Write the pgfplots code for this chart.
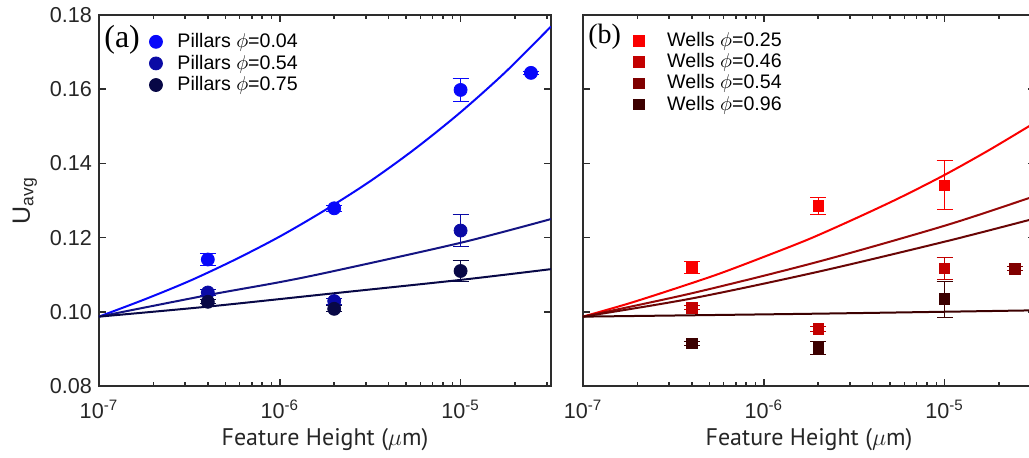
\documentclass[border=0pt]{standalone}
\usepackage{fontspec}
\setmainfont{Liberation Sans}
\newfontfamily\seriffont{Liberation Serif}
\newfontfamily\labelfont{PT Sans}
\usepackage{pgfplots}
\usepackage{pgfplotstable}
\pgfplotsset{compat=1.18}

\definecolor{axgray}{RGB}{45,45,45}
\definecolor{pA}{RGB}{8,8,250}
\definecolor{pB}{RGB}{10,10,165}
\definecolor{pC}{RGB}{8,8,70}
\definecolor{pBl}{RGB}{20,20,130}
\definecolor{wA}{RGB}{250,0,0}
\definecolor{wB}{RGB}{195,0,0}
\definecolor{wC}{RGB}{128,0,0}
\definecolor{wD}{RGB}{60,0,0}
\definecolor{wBl}{RGB}{150,8,8}
\definecolor{wCl}{RGB}{105,5,5}

% ---- data: pillars ----
\pgfplotstableread{
x y ey
4e-7 0.1141 0.0015
2e-6 0.1279 0.0008
1e-5 0.1598 0.0032
2.45e-5 0.1644 0.0005
}\pilA
\pgfplotstableread{
x y ey
4e-7 0.1052 0.0008
2e-6 0.1029 0.0008
1e-5 0.1219 0.0044
}\pilB
\pgfplotstableread{
x y ey
4e-7 0.1027 0.0005
2e-6 0.1008 0.0008
1e-5 0.1110 0.0028
}\pilC
% ---- data: wells ----
\pgfplotstableread{
x y ey
4e-7 0.1119 0.0017
2e-6 0.1285 0.0024
1e-5 0.1341 0.0066
}\welA
\pgfplotstableread{
x y ey
4e-7 0.1011 0.0006
2e-6 0.0954 0.0006
1e-5 0.1117 0.0029
}\welB
\pgfplotstableread{
x y ey
2.45e-5 0.1116 0.0005
}\welC
\pgfplotstableread{
x y ey
4e-7 0.0915 0.0006
2e-6 0.0902 0.0017
1e-5 0.1034 0.0048
}\welD

\begin{document}
\begin{tikzpicture}
\path[use as bounding box] (0,0) rectangle (514.5pt,228.5pt);

% ---------------- (a) pillars ----------------
\begin{axis}[at={(49.5pt,35.5pt)}, anchor=south west,
    scale only axis, width=226pt, height=185.5pt,
    xmode=log, xmin=1e-7, xmax=3.1623e-5, ymin=0.08, ymax=0.18,
    xtick={1e-7,1e-6,1e-5},
    xticklabels={10\textsuperscript{-7},10\textsuperscript{-6},10\textsuperscript{-5}},
    minor xtick={2e-7,3e-7,4e-7,5e-7,6e-7,7e-7,8e-7,9e-7,2e-6,3e-6,4e-6,5e-6,6e-6,7e-6,8e-6,9e-6,2e-5,3e-5},
    ytick={0.08,0.10,0.12,0.14,0.16,0.18},
    yticklabels={0.08,0.10,0.12,0.14,0.16,0.18},
    axis line style={line width=1pt, color=axgray},
    tick style={line width=0.8pt, color=axgray},
    major tick length=3.5pt, minor tick length=2pt,
    tick label style={font=\fontsize{10.8}{12}\selectfont, color=black!85},
    xticklabel style={anchor=base, yshift=-16.3pt},
    xlabel={\labelfont Feature Height ($\mu$m)},
    xlabel style={at={(rel axis cs:0.5,-0.1617)}, anchor=base, font=\fontsize{12}{14}\selectfont, color=black!85},
    ylabel={U\textsubscript{avg}},
    ylabel style={at={(rel axis cs:-0.164,0.5)}, anchor=center, font=\fontsize{12.5}{14}\selectfont, color=black!85},
    legend cell align=left,
    legend style={at={(0.1117,0.9617)}, draw=none, fill=none, anchor=north west, inner sep=0pt, outer sep=0pt,
      row sep=-1.8pt, column sep=5.5pt, font=\fontsize{9.8}{11}\selectfont},
]
\addplot[line width=1pt, smooth, no marks, forget plot, color=pA] coordinates {
(1e-7,0.0987) (1.778e-7,0.1033) (3.162e-7,0.1083) (5.623e-7,0.1140) (1e-6,0.1203)
(1.778e-6,0.1274) (3.162e-6,0.1352) (5.623e-6,0.1440) (1e-5,0.1538) (1.778e-5,0.1647) (3.1623e-5,0.1769)};
\addplot[line width=1pt, smooth, no marks, forget plot, color=pBl] coordinates {
(1e-7,0.0987) (4e-7,0.1045) (1e-6,0.1080) (2e-6,0.1110) (1e-5,0.1186) (3.1623e-5,0.1250)};
\addplot[line width=1pt, smooth, no marks, forget plot, color=pC] coordinates {
(1e-7,0.0987) (4e-7,0.1014) (2e-6,0.1050) (1e-5,0.1086) (3.1623e-5,0.1115)};

\addplot[only marks, mark=*, mark size=3.25pt, color=pA,
  error bars/.cd, y dir=both, y explicit, error bar style={line width=0.5pt},
  error mark options={rotate=90, mark size=4pt, line width=0.5pt}]
  table[x=x,y=y,y error=ey]{\pilA};
\addlegendentry{Pillars $\phi$=0.04}
\addplot[only marks, mark=*, mark size=3.25pt, color=pB,
  error bars/.cd, y dir=both, y explicit, error bar style={line width=0.5pt},
  error mark options={rotate=90, mark size=4pt, line width=0.5pt}]
  table[x=x,y=y,y error=ey]{\pilB};
\addlegendentry{Pillars $\phi$=0.54}
\addplot[only marks, mark=*, mark size=3.25pt, color=pC,
  error bars/.cd, y dir=both, y explicit, error bar style={line width=0.5pt},
  error mark options={rotate=90, mark size=4pt, line width=0.5pt}]
  table[x=x,y=y,y error=ey]{\pilC};
\addlegendentry{Pillars $\phi$=0.75}

\node[font=\seriffont\fontsize{16}{16}\selectfont, anchor=west, inner sep=0pt] at (rel axis cs:0.011,0.9337) {(a)};
\end{axis}

% ---------------- (b) wells ----------------
\begin{axis}[at={(291.5pt,35.5pt)}, anchor=south west,
    scale only axis, width=226pt, height=185.5pt,
    xmode=log, xmin=1e-7, xmax=3.1623e-5, ymin=0.08, ymax=0.18,
    xtick={1e-7,1e-6,1e-5},
    xticklabels={10\textsuperscript{-7},10\textsuperscript{-6},10\textsuperscript{-5}},
    minor xtick={2e-7,3e-7,4e-7,5e-7,6e-7,7e-7,8e-7,9e-7,2e-6,3e-6,4e-6,5e-6,6e-6,7e-6,8e-6,9e-6,2e-5,3e-5},
    ytick={0.08,0.10,0.12,0.14,0.16,0.18},
    yticklabels={},
    axis line style={line width=1pt, color=axgray},
    tick style={line width=0.8pt, color=axgray},
    major tick length=3.5pt, minor tick length=2pt,
    tick label style={font=\fontsize{10.8}{12}\selectfont, color=black!85},
    xticklabel style={anchor=base, yshift=-16.3pt},
    xlabel={\labelfont Feature Height ($\mu$m)},
    xlabel style={at={(rel axis cs:0.5,-0.1617)}, anchor=base, font=\fontsize{12}{14}\selectfont, color=black!85},
    legend cell align=left,
    legend style={at={(0.112,0.9644)}, draw=none, fill=none, anchor=north west, inner sep=0pt, outer sep=0pt,
      row sep=-2pt, column sep=9.5pt, font=\fontsize{9.8}{11}\selectfont},
]
\addplot[line width=1pt, smooth, no marks, forget plot, color=wA] coordinates {
(1e-7,0.0987) (1.778e-7,0.1022) (3.162e-7,0.1061) (5.623e-7,0.1102) (1e-6,0.1148) (1.778e-6,0.1196)
(3.162e-6,0.1250) (5.623e-6,0.1307) (1e-5,0.1369) (1.778e-5,0.1437) (3.1623e-5,0.1510)};
\addplot[line width=1pt, smooth, no marks, forget plot, color=wBl] coordinates {
(1e-7,0.0987) (4e-7,0.1050) (2e-6,0.1135) (1e-5,0.1232) (2.91e-5,0.1306) (3.1623e-5,0.1312)};
\addplot[line width=1pt, smooth, no marks, forget plot, color=wCl] coordinates {
(1e-7,0.0987) (4e-7,0.1036) (2e-6,0.1108) (1e-5,0.1189) (2.91e-5,0.1247) (3.1623e-5,0.1252)};
\addplot[line width=1pt, smooth, no marks, forget plot, color=wD] coordinates {
(1e-7,0.0987) (2e-6,0.0995) (3.1623e-5,0.1004)};

\addplot[only marks, mark=square*, mark size=2.65pt, color=wA,
  error bars/.cd, y dir=both, y explicit, error bar style={line width=0.5pt},
  error mark options={rotate=90, mark size=4pt, line width=0.5pt}]
  table[x=x,y=y,y error=ey]{\welA};
\addlegendentry{Wells $\phi$=0.25}
\addplot[only marks, mark=square*, mark size=2.65pt, color=wB,
  error bars/.cd, y dir=both, y explicit, error bar style={line width=0.5pt},
  error mark options={rotate=90, mark size=4pt, line width=0.5pt}]
  table[x=x,y=y,y error=ey]{\welB};
\addlegendentry{Wells $\phi$=0.46}
\addplot[only marks, mark=square*, mark size=2.65pt, color=wC,
  error bars/.cd, y dir=both, y explicit, error bar style={line width=0.5pt},
  error mark options={rotate=90, mark size=4pt, line width=0.5pt}]
  table[x=x,y=y,y error=ey]{\welC};
\addlegendentry{Wells $\phi$=0.54}
\addplot[only marks, mark=square*, mark size=2.65pt, color=wD,
  error bars/.cd, y dir=both, y explicit, error bar style={line width=0.5pt},
  error mark options={rotate=90, mark size=4pt, line width=0.5pt}]
  table[x=x,y=y,y error=ey]{\welD};
\addlegendentry{Wells $\phi$=0.96}

\node[font=\seriffont\fontsize{14}{14}\selectfont, anchor=west, inner sep=0pt] at (rel axis cs:0.011,0.9415) {(b)};
\end{axis}
\end{tikzpicture}
\end{document}
